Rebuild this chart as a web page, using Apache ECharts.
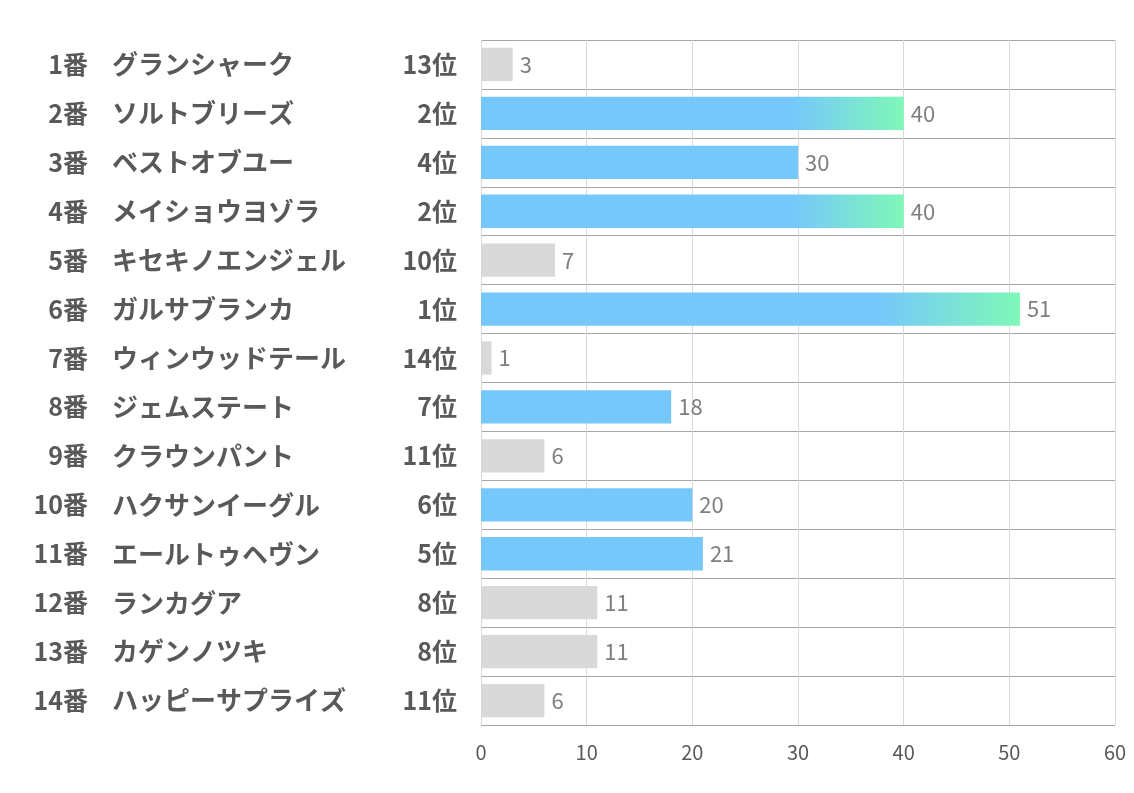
<!DOCTYPE html>
<html><head><meta charset="utf-8">
<script src="https://cdn.jsdelivr.net/npm/echarts@6/dist/echarts.min.js"></script>
<style>html,body{margin:0;padding:0;background:#fff}#c{width:1134px;height:793px}</style>
</head><body><div id="c"></div>
<script>
const numbers = ['1番','2番','3番','4番','5番','6番','7番','8番','9番','10番','11番','12番','13番','14番'];
const names = ['グランシャーク','ソルトブリーズ','ベストオブユー','メイショウヨゾラ','キセキノエンジェル','ガルサブランカ','ウィンウッドテール','ジェムステート','クラウンパント','ハクサンイーグル','エールトゥヘヴン','ランカグア','カゲンノツキ','ハッピーサプライズ'];
const ranks = [13,2,4,2,10,1,14,7,11,6,5,8,8,11];
const values = [3,40,30,40,7,51,1,18,6,20,21,11,11,6];
const xTicks = [0,10,20,30,40,50,60];

const BLUE = '#76C8FB', GREEN = '#7EF8B7', GRAY = '#D9D9D9';
const rankLabels = ranks.map(r=>r+'位');
const font = '"Noto Sans CJK JP", "Noto Sans", sans-serif';
const labelStyle = {fontSize:25,fontWeight:'bold',color:'#595959',fontFamily:font};

const data = values.map((v,i)=>{
  let color;
  if (ranks[i] <= 2) {
    color = {type:'linear',x:0,y:0,x2:1,y2:0,colorStops:[{offset:0,color:BLUE},{offset:0.74,color:BLUE},{offset:1,color:GREEN}]};
  } else if (ranks[i] <= 7) color = BLUE; else color = GRAY;
  return {value:v,itemStyle:{color}};
});

function catAxis(cats, extra, label){
  return Object.assign({type:'category',data:cats,inverse:true,position:'left',
    axisLine:{show:false},axisTick:{show:false},splitLine:{show:false},
    axisLabel:Object.assign({}, labelStyle, label)}, extra);
}

const chart = echarts.init(document.getElementById('c'));
chart.setOption({
  animation:false,
  backgroundColor:'#fff',
  grid:{left:481,right:19,top:40,bottom:68,containLabel:false},
  xAxis:{type:'value',min:0,max:60,interval:10,
    axisLine:{show:false},axisTick:{show:false},
    axisLabel:{color:'#595959',fontSize:20,fontFamily:font,margin:17,
      formatter:v=>xTicks.includes(v)?String(v):''},
    splitLine:{show:true,lineStyle:{color:'#D9D9D9',width:1}}},
  yAxis:[
    catAxis(rankLabels,{splitLine:{show:true,lineStyle:{color:'#A6A6A6',width:1}}},{margin:24,align:'right'}),
    catAxis(numbers,{},{margin:393,align:'right'}),
    catAxis(names,{},{margin:369,align:'left',fontSize:26})
  ],
  series:[{type:'bar',data:data,barCategoryGap:'32%',yAxisIndex:0,
    label:{show:true,position:'right',distance:7,color:'#7F7F7F',fontSize:22,fontFamily:font}}]
});
</script></body></html>
